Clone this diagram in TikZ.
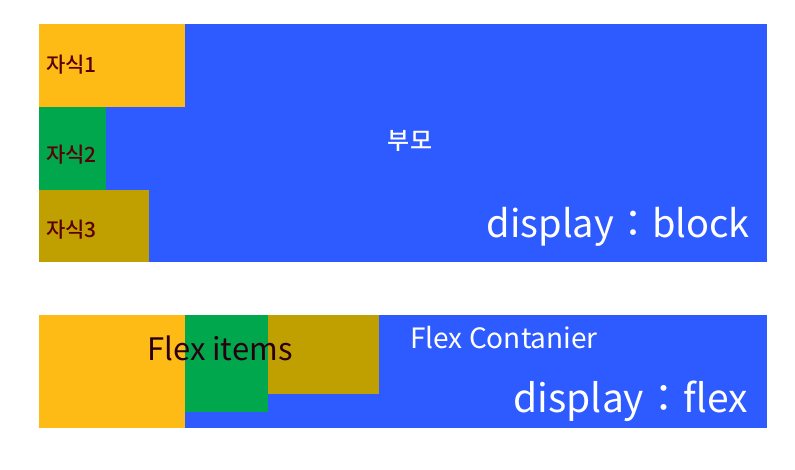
\documentclass[tikz,border=0pt]{standalone}
\usepackage{fontspec}
\setmainfont{Noto Sans CJK KR}
\newfontfamily\medfont{Noto Sans CJK KR Medium}
\definecolor{cblue}{HTML}{2D5BFF}
\definecolor{corange}{HTML}{FFBB15}
\definecolor{cgreen}{HTML}{00A74D}
\definecolor{colive}{HTML}{C0A000}
\definecolor{cdark}{HTML}{5A0008}
\definecolor{cdark2}{HTML}{2A0010}
\tikzset{
  lbl/.style={inner sep=0,text=cdark,anchor=base west,font=\medfont\fontsize{21}{24}\selectfont},
  wlbl/.style={inner sep=0,text=white},
}
\begin{document}
\begin{tikzpicture}[x=1pt,y=-1pt]
\useasboundingbox (0,0) rectangle (795,469);
% top
\fill[cblue] (39,24) rectangle (767,262);
\fill[corange] (39,24) rectangle (185,107);
\fill[cgreen] (39,107) rectangle (106,190);
\fill[colive] (39,190) rectangle (149,262);
\node[lbl] (c1) at (46,72) {자식1};
\node[lbl] (c2) at (46,162) {자식2};
\node[lbl] (c3) at (46,237) {자식3};
\node[wlbl,anchor=center,font=\medfont\fontsize{24}{28}\selectfont] (p) at (410,141) {부모};
\node[wlbl,anchor=base east,font=\fontsize{38}{44}\selectfont] (db) at (750,237) {display：block};
% bottom
\fill[cblue] (39,315) rectangle (767,428);
\fill[corange] (39,315) rectangle (185,428);
\fill[cgreen] (185,315) rectangle (268,412);
\fill[colive] (268,315) rectangle (379,394);
\node[inner sep=0,text=cdark2,anchor=base west,font=\fontsize{31}{36}\selectfont] (fi) at (147,360) {Flex items};
\node[wlbl,anchor=base west,font=\fontsize{28}{32}\selectfont] (fc) at (410,348) {Flex Contanier};
\node[wlbl,anchor=base east,font=\fontsize{39}{44}\selectfont] (df) at (748,412) {display：flex};
\end{tikzpicture}
\end{document}
